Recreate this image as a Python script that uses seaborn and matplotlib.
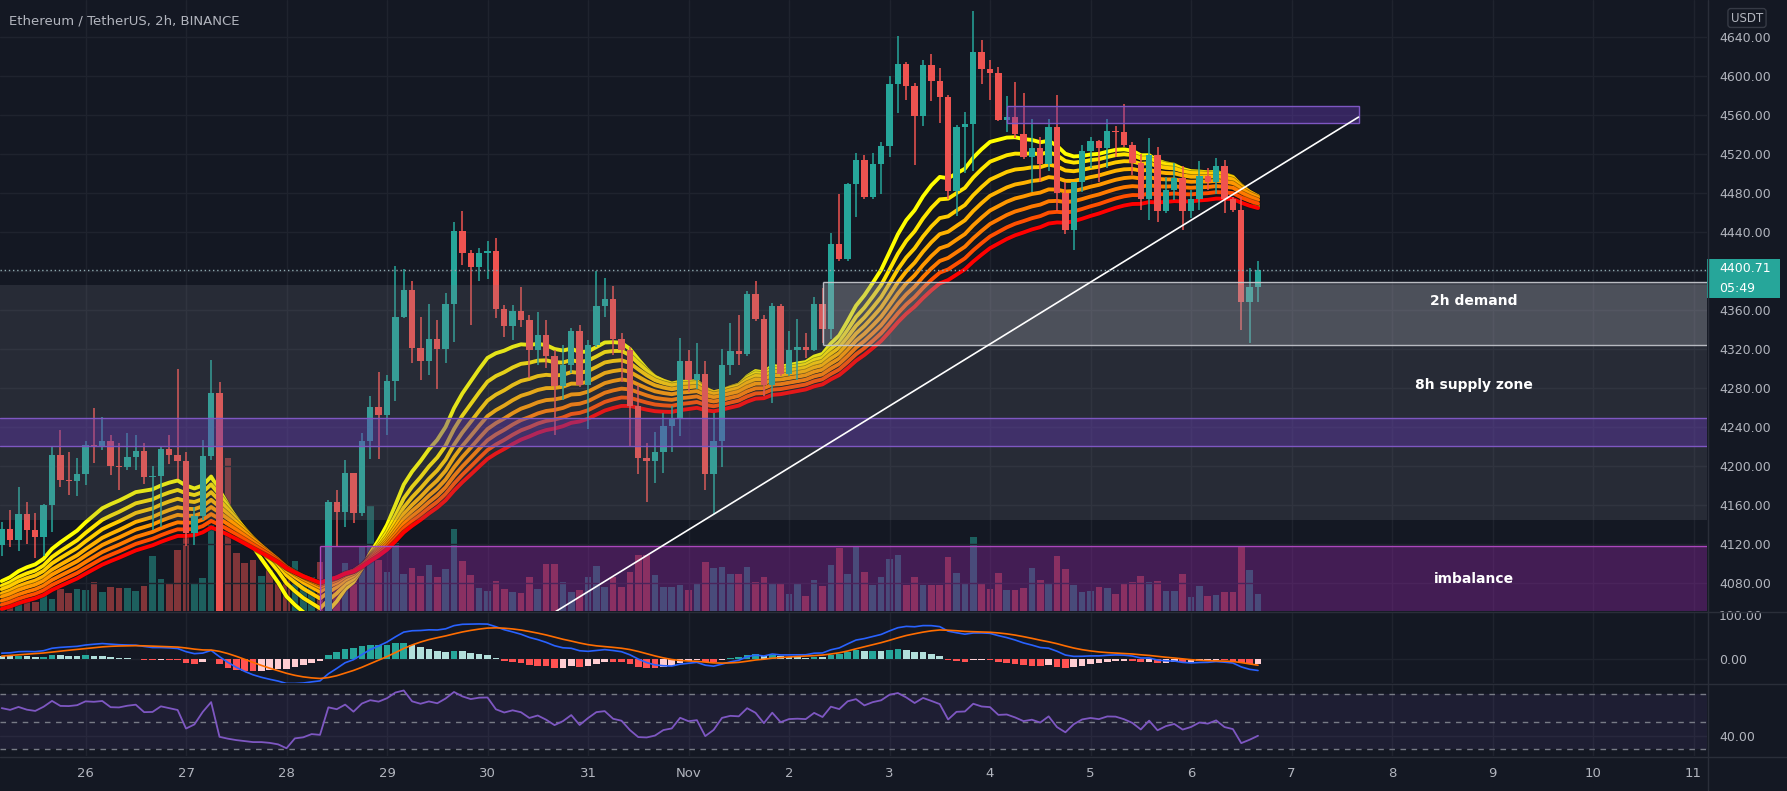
import numpy as np
import pandas as pd
import matplotlib
matplotlib.use("Agg")
import matplotlib.pyplot as plt
import matplotlib.patheffects as pe
from matplotlib.patches import Rectangle
from matplotlib.lines import Line2D
from matplotlib.transforms import blended_transform_factory
import seaborn as sns

sns.set_theme(style="dark")
plt.rcParams['font.family'] = ['DejaVu Sans']

# ---------------- data ----------------
start_time = "2021-10-25 04:00"
first_open = 4119.0
close = [
    4135, 4124, 4150, 4134, 4127, 4160, 4211, 4185, 4184, 4191,
    4221, 4219, 4225, 4200, 4199, 4209, 4215, 4188, 4189, 4217,
    4211, 4205, 4131, 4148, 4210, 4275, 4040, 4020, 4005, 3995,
    3985, 3985, 3978, 3965, 3930, 3975, 3980, 3995, 3990, 4163,
    4152, 4192, 4151, 4225, 4260, 4252, 4287, 4353, 4380, 4321,
    4307, 4330, 4320, 4366, 4441, 4418, 4404, 4418, 4420, 4361,
    4343, 4359, 4349, 4319, 4334, 4312, 4282, 4303, 4338, 4283,
    4324, 4364, 4371, 4330, 4319, 4261, 4208, 4205, 4214, 4241,
    4249, 4307, 4288, 4294, 4191, 4225, 4303, 4318, 4315, 4376,
    4350, 4283, 4364, 4294, 4319, 4322, 4319, 4366, 4340, 4427,
    4412, 4489, 4513, 4476, 4509, 4528, 4591, 4612, 4589, 4559,
    4611, 4595, 4578, 4482, 4547, 4550, 4624, 4607, 4603, 4555,
    4558, 4540, 4517, 4526, 4509, 4547, 4480, 4442, 4491, 4523,
    4533, 4526, 4543, 4542, 4529, 4510, 4474, 4519, 4461, 4483,
    4495, 4461, 4474, 4497, 4491, 4507, 4473, 4462, 4368, 4383,
    4400.71]
high = [
    4142, 4155, 4178, 4163, 4151, 4161, 4219, 4237, 4214, 4208,
    4225, 4259, 4250, 4231, 4223, 4234, 4231, 4223, 4200, 4220,
    4231, 4299, 4214, 4158, 4226, 4308, 4286, 4045, 4035, 4020,
    4010, 4005, 4000, 3990, 3975, 3985, 3998, 4012, 4015, 4165,
    4175, 4206, 4193, 4234, 4271, 4296, 4293, 4405, 4402, 4389,
    4353, 4366, 4349, 4377, 4450, 4461, 4421, 4423, 4430, 4434,
    4365, 4365, 4383, 4355, 4358, 4349, 4319, 4324, 4341, 4344,
    4329, 4400, 4392, 4384, 4336, 4322, 4283, 4223, 4235, 4254,
    4261, 4331, 4319, 4326, 4307, 4254, 4320, 4346, 4355, 4379,
    4389, 4355, 4367, 4366, 4338, 4350, 4336, 4373, 4382, 4439,
    4479, 4490, 4521, 4519, 4521, 4532, 4600, 4641, 4614, 4592,
    4616, 4622, 4608, 4580, 4549, 4563, 4666, 4637, 4616, 4609,
    4579, 4594, 4582, 4556, 4537, 4556, 4580, 4491, 4491, 4529,
    4537, 4534, 4556, 4548, 4571, 4532, 4520, 4536, 4527, 4496,
    4510, 4507, 4483, 4512, 4505, 4516, 4514, 4476, 4476, 4403,
    4410]
low = [
    4107, 4117, 4113, 4120, 4105, 4107, 4132, 4178, 4170, 4169,
    4180, 4203, 4216, 4190, 4175, 4196, 4196, 4181, 4134, 4137,
    4202, 4186, 4118, 4119, 4144, 4206, 4028, 3995, 3985, 3975,
    3965, 3962, 3955, 3945, 3912, 3920, 3962, 3970, 3975, 3982,
    4117, 4137, 4141, 4148, 4207, 4207, 4231, 4266, 4351, 4305,
    4288, 4293, 4279, 4305, 4327, 4406, 4344, 4389, 4391, 4351,
    4332, 4329, 4342, 4290, 4303, 4300, 4231, 4267, 4295, 4281,
    4238, 4322, 4353, 4314, 4286, 4220, 4191, 4163, 4182, 4192,
    4214, 4230, 4276, 4279, 4175, 4150, 4199, 4293, 4303, 4313,
    4348, 4271, 4264, 4292, 4292, 4288, 4310, 4318, 4326, 4330,
    4410, 4410, 4455, 4474, 4474, 4479, 4517, 4562, 4575, 4508,
    4548, 4574, 4551, 4474, 4456, 4500, 4502, 4591, 4575, 4554,
    4542, 4536, 4515, 4481, 4491, 4502, 4461, 4438, 4421, 4481,
    4505, 4491, 4505, 4517, 4527, 4498, 4462, 4452, 4450, 4459,
    4472, 4442, 4454, 4462, 4483, 4479, 4459, 4460, 4339, 4326,
    4368]
volume = [
    10, 8, 14, 12, 9, 16, 12, 22, 18, 22,
    21, 29, 19, 24, 23, 23, 20, 25, 55, 32,
    28, 61, 76, 27, 33, 86, 60, 153, 58, 48,
    51, 35, 41, 29, 33, 50, 31, 34, 49, 61,
    31, 48, 31, 64, 105, 51, 39, 68, 37, 43,
    35, 46, 34, 42, 82, 50, 36, 23, 20, 30,
    22, 19, 18, 34, 22, 47, 47, 29, 19, 21,
    34, 45, 24, 34, 24, 39, 56, 56, 36, 24,
    24, 26, 21, 27, 49, 43, 44, 37, 37, 44,
    29, 34, 27, 28, 17, 28, 15, 31, 25, 46,
    63, 37, 64, 39, 26, 34, 52, 56, 26, 34,
    26, 26, 26, 54, 38, 28, 74, 28, 22, 38,
    21, 21, 23, 43, 31, 28, 55, 42, 26, 19,
    20, 24, 23, 17, 28, 29, 35, 29, 30, 20,
    20, 37, 14, 25, 15, 16, 19, 19, 64, 41,
    17]

ribbon_lengths = [20, 25, 30, 35, 40, 45, 50, 55]
ribbon_seeds = [4076, 4072, 4069, 4065, 4062, 4058, 4054, 4050]
macd_seeds = {"fast": 4096, "slow": 4085, "signal": 5}
rsi_seeds = {"gain": 24.0, "loss": 17.0}

day_labels = ["26", "27", "28", "29", "30", "31", "Nov", "2", "3", "4",
              "5", "6", "7", "8", "9", "10", "11"]
price_grid = [4640, 4600, 4560, 4520, 4480, 4440, 4400, 4360, 4320, 4280,
              4240, 4200, 4160, 4120, 4080]
price_labels = [p for p in price_grid if p != 4400]  # 4400 hidden by price tag

# zones (price levels and anchor times)
supply_zone = (4144, 4385)
demand_zone = (4324, 4388, "2021-11-02 08:00")
purple_band = (4220.6, 4248.6)
top_box = (4551, 4569, "2021-11-04 04:00", "2021-11-07 16:00")
imbalance_zone = (4030, 4117.5, "2021-10-28 08:00")
trend_times = ["2021-10-29 08:00", "2021-11-07 16:00"]
trend_prices = [3965, 4557.5]
timer_text = "05:49"

# ---------------- derived ----------------
W, H = 1787, 791
BG = '#141823'
GRID = '#1f232e'
TXT = '#b2b5be'
UP, DN = '#26a69a', '#ef5350'
RIB_COLORS = ['#ffff00', '#ffe600', '#ffcc00', '#ffb200',
              '#ff9800', '#ff7a00', '#ff4f00', '#ff0000']

ref = pd.Timestamp("2021-10-26 00:00")
step = pd.Timedelta(hours=2)
def tpos(t):
    return (pd.Timestamp(t) - ref) / step

times = pd.date_range(start_time, periods=len(close), freq="2h")
x = np.asarray((times - ref) / step, dtype=float)
c = np.array(close, float)
h = np.array(high, float)
l = np.array(low, float)
o = np.concatenate([[first_open], c[:-1]])
v = np.array(volume, float)


def ema(vals, span, seed):
    a = 2.0 / (span + 1)
    e = seed
    out = []
    for val in vals:
        e = e + a * (val - e)
        out.append(e)
    return np.array(out)


rib = pd.concat([
    pd.DataFrame({"x": x, "v": ema(c, n, s), "len": f"EMA{n}"})
    for n, s in zip(ribbon_lengths, ribbon_seeds)
])

fast = ema(c, 12, macd_seeds["fast"])
slow = ema(c, 26, macd_seeds["slow"])
macd = fast - slow
sig = ema(macd, 9, macd_seeds["signal"])
hist = macd - sig
hcol = []
prev = hist[0]
for hv in hist:
    if hv >= 0:
        hcol.append('#26a69a' if hv > prev else '#b2dfdb')
    else:
        hcol.append('#ffcdd2' if hv > prev else '#ff5252')
    prev = hv

diff = np.diff(np.concatenate([[first_open], c]))
ag, al = rsi_seeds["gain"], rsi_seeds["loss"]
rsi = []
for d in diff:
    ag = (ag * 13 + max(d, 0)) / 14
    al = (al * 13 + max(-d, 0)) / 14
    rsi.append(100 - 100 / (1 + ag / al))
rsi = np.array(rsi)

# ---------------- figure ----------------
fig = plt.figure(figsize=(W / 100, H / 100), dpi=100, facecolor=BG)
def fx(px): return px / W
def fy(py): return 1 - py / H

AXR = 1707
ax = fig.add_axes([0, fy(611), fx(AXR), 611 / H])
axm = fig.add_axes([0, fy(683), fx(AXR), 71 / H])
axr = fig.add_axes([0, fy(756), fx(AXR), 72 / H])
axv = ax.twinx()
ax.set_zorder(axv.get_zorder() + 1)
ax.patch.set_visible(False)
axv.set_facecolor(BG)
for a in (axm, axr):
    a.set_facecolor(BG)

XMIN, XMAX = -10.209, 193.61
day_pos = [12 * i for i in range(len(day_labels))]

# volume
vol_cols = np.where(c >= o, UP, DN)
axv.bar(x, v, width=0.78, color=vol_cols, alpha=0.5, linewidth=0)
axv.set_ylim(0, 611)
axv.set_yticks([])
axv.grid(False)

# grid
for p in price_grid:
    ax.axhline(p, color=GRID, lw=1, zorder=0)
for a in (ax, axm, axr):
    for dp in day_pos:
        a.axvline(dp, color=GRID, lw=1, zorder=0)

# ribbon
sns.lineplot(data=rib, x="x", y="v", hue="len", palette=RIB_COLORS,
             linewidth=2.8, legend=False, ax=ax, zorder=3,
             estimator=None, sort=False,
             path_effects=[pe.Stroke(linewidth=3.8, foreground='#101010',
                                     alpha=0.45), pe.Normal()])

# candles
cols = np.where(c >= o, UP, DN)
ax.vlines(x, l, h, colors=cols, lw=1.1, zorder=4)
ax.bar(x, np.maximum(np.abs(c - o), 1.0), bottom=np.minimum(o, c),
       width=0.76, color=cols, linewidth=0, zorder=5)

# zones
BIG = XMAX + 50
ax.axhspan(supply_zone[0], supply_zone[1], color='#787b86', alpha=0.2,
           lw=0, zorder=6)
dx0 = tpos(demand_zone[2])
ax.add_patch(Rectangle((dx0, demand_zone[0]), BIG - dx0,
                       demand_zone[1] - demand_zone[0],
                       facecolor='#b2b5be', alpha=0.27, lw=0, zorder=6))
ax.hlines([demand_zone[0], demand_zone[1]], dx0, BIG, color='#c8cad0',
          lw=1, zorder=7, alpha=0.9)
ax.vlines(dx0, demand_zone[0], demand_zone[1], color='#c8cad0', lw=1,
          zorder=7, alpha=0.9)
ax.axhspan(purple_band[0], purple_band[1], color='#673ab7', alpha=0.4,
           lw=0, zorder=6)
ax.axhline(purple_band[0], color='#7e57c2', lw=1, zorder=7)
ax.axhline(purple_band[1], color='#7e57c2', lw=1, zorder=7)
bx0, bx1 = tpos(top_box[2]), tpos(top_box[3])
ax.add_patch(Rectangle((bx0, top_box[0]), bx1 - bx0, top_box[1] - top_box[0],
                       facecolor='#673ab7', alpha=0.4, lw=0, zorder=6))
ax.add_patch(Rectangle((bx0, top_box[0]), bx1 - bx0, top_box[1] - top_box[0],
                       facecolor='none', edgecolor='#7e57c2', lw=1, zorder=7))
ix0 = tpos(imbalance_zone[2])
ax.add_patch(Rectangle((ix0, imbalance_zone[0]), BIG - ix0,
                       imbalance_zone[1] - imbalance_zone[0],
                       facecolor='#9c27b0', alpha=0.35, lw=0, zorder=6))
ax.hlines(imbalance_zone[1], ix0, BIG, color='#ab47bc', lw=1, zorder=7)
ax.vlines(ix0, imbalance_zone[0], imbalance_zone[1], color='#ab47bc', lw=1,
          zorder=7)

# trend line
ax.plot([tpos(t) for t in trend_times], trend_prices, color='white', lw=1.2,
        zorder=8)

# last price line
last = c[-1]
ax.axhline(last, color='#8fa9b0', lw=1, ls=(0, (1, 2)), zorder=8)

# zone labels
lab_x = 165.8
for txt, py in [("2h demand", 4369), ("8h supply zone", 4282.6),
                ("imbalance", 4083.8)]:
    ax.text(lab_x, py, txt, color='white', fontsize=10, fontweight='bold',
            ha='center', va='center', zorder=10)

ax.set_xlim(XMIN, XMAX)
ax.set_ylim(4050.97, 4677.6)
ax.yaxis.tick_right()
ax.set_yticks(price_labels)
ax.set_yticklabels([f"{p:.2f}" for p in price_labels])
ax.set_xticks([])
ax.tick_params(axis='y', length=0, pad=8.6, labelsize=9, colors=TXT)
ax.set_xlabel(""); ax.set_ylabel("")
ax.grid(False)

# price tag
trans = blended_transform_factory(ax.transAxes, ax.transData)
ax.add_patch(Rectangle((1.0, last - 28.4), 73 / AXR, 40.1, transform=trans,
                       facecolor='#26a69a', lw=0, clip_on=False, zorder=20))
ax.text(1.0 + 12 / AXR, last + 2.0, f"{last:.2f}", transform=trans,
        color='white', fontsize=9, va='center', ha='left', clip_on=False,
        zorder=21)
ax.text(1.0 + 12 / AXR, last - 18.5, timer_text, transform=trans,
        color='white', fontsize=9, va='center', ha='left', clip_on=False,
        zorder=21)

# MACD
axm.bar(x, hist, width=0.8, color=hcol, linewidth=0, zorder=2)
mdf = pd.DataFrame({"x": x, "macd": macd, "signal": sig})
sns.lineplot(data=mdf, x="x", y="macd", color='#2962ff', linewidth=1.2,
             ax=axm, zorder=3, estimator=None)
sns.lineplot(data=mdf, x="x", y="signal", color='#ff6d00', linewidth=1.2,
             ax=axm, zorder=3, estimator=None)
axm.axhline(0, color=GRID, lw=1, zorder=0)
axm.set_xlim(XMIN, XMAX)
axm.set_ylim(-54.5, 106.8)
axm.yaxis.tick_right()
axm.set_yticks([0, 100])
axm.set_yticklabels(["0.00", "100.00"])
axm.set_xticks([])
axm.tick_params(axis='y', length=0, pad=8.6, labelsize=9, colors=TXT)
axm.set_xlabel(""); axm.set_ylabel("")
axm.grid(False)

# RSI
axr.axhspan(30, 70, color='#7e57c2', alpha=0.1, lw=0, zorder=1)
for lev in (70, 50, 30):
    axr.axhline(lev, color='#787b86', lw=1, ls=(0, (4, 4)), zorder=2)
axr.axhline(40, color=GRID, lw=1, zorder=0)
rdf = pd.DataFrame({"x": x, "rsi": rsi})
sns.lineplot(data=rdf, x="x", y="rsi", color='#7e57c2', linewidth=1.3,
             ax=axr, zorder=3, estimator=None)
axr.set_xlim(XMIN, XMAX)
axr.set_ylim(25.3, 77.1)
axr.yaxis.tick_right()
axr.set_yticks([40])
axr.set_yticklabels(["40.00"])
axr.set_xticks(day_pos)
axr.set_xticklabels(day_labels)
axr.tick_params(axis='y', length=0, pad=8.6, labelsize=9, colors=TXT)
axr.tick_params(axis='x', length=0, pad=8, labelsize=9.5, colors=TXT)
axr.set_xlabel(""); axr.set_ylabel("")
axr.grid(False)

for a in (ax, axv, axm, axr):
    for s in a.spines.values():
        s.set_visible(False)

# separators
SEP = '#2a2e39'
for py in (611.5, 683.5, 756.5):
    fig.add_artist(Line2D([0, 1], [fy(py)] * 2, transform=fig.transFigure,
                          color=SEP, lw=1))
fig.add_artist(Line2D([fx(AXR + 0.5)] * 2, [0, 1], transform=fig.transFigure,
                      color=SEP, lw=1))

# title and unit
fig.text(fx(9), fy(21), "Ethereum / TetherUS, 2h, BINANCE", color=TXT,
         fontsize=9.5, ha='left', va='center')
fig.text(fx(1747), fy(18), "USDT", color=TXT, fontsize=8.5, ha='center',
         va='center',
         bbox=dict(boxstyle='round,pad=0.25', fc=BG, ec='#363a45', lw=1))

fig.savefig("out.png", dpi=100, facecolor=BG)
